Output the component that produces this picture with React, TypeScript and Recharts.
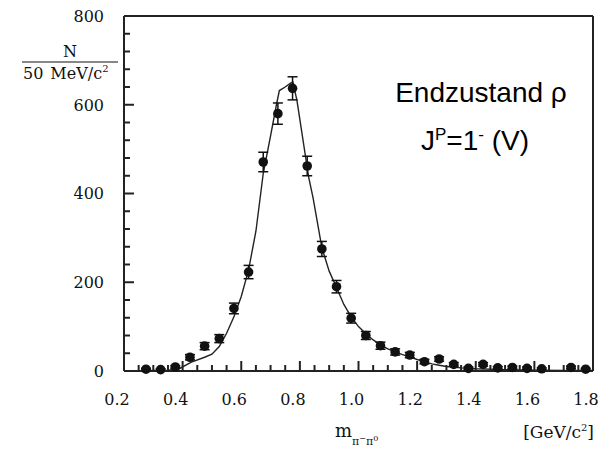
import React from 'react';
import { ComposedChart, XAxis, YAxis, Scatter, Line, ErrorBar } from 'recharts';

// measured points (bin centres, 50 MeV bins)
const massBins = [
  0.275, 0.325, 0.375, 0.425, 0.475, 0.525, 0.575, 0.625, 0.675, 0.725,
  0.775, 0.825, 0.875, 0.925, 0.975, 1.025, 1.075, 1.125, 1.175, 1.225,
  1.275, 1.325, 1.375, 1.425, 1.475, 1.525, 1.575, 1.625, 1.725, 1.775,
];
const counts = [
  4, 3, 9, 31, 56, 73, 141, 223, 471, 580,
  637, 462, 275, 190, 119, 80, 57, 43, 36, 21,
  27, 15, 6, 15, 7, 8, 6, 5, 8, 4,
];
const errors = [
  2, 2, 3, 6, 8, 9, 12, 15, 22, 24,
  26, 22, 17, 14, 11, 9, 8, 7, 6, 5,
  5, 4, 3, 4, 3, 3, 3, 2, 3, 2,
];

// fitted curve
const fitMass = [
  0.28, 0.35, 0.385, 0.43, 0.475, 0.5, 0.525, 0.55, 0.575, 0.6,
  0.625, 0.65, 0.675, 0.7, 0.72, 0.73, 0.75, 0.767, 0.776, 0.79,
  0.805, 0.82, 0.83, 0.845, 0.875, 0.9, 0.925, 0.95, 0.975, 1.0,
  1.025, 1.05, 1.075, 1.1, 1.125, 1.15, 1.175, 1.2, 1.225, 1.25,
  1.275, 1.3, 1.35, 1.4, 1.5, 1.6, 1.7, 1.8,
];
const fitCounts = [
  1, 2, 4, 20, 31, 38, 55, 85, 122, 168,
  228, 315, 445, 530, 600, 632, 640, 648, 651, 610,
  545, 480, 437, 390, 278, 225, 188, 150, 122, 100,
  84, 70, 59, 50, 43, 37, 32, 26, 21, 16,
  13, 10, 7, 5, 3, 2, 1.5, 1,
];

const xTickLabels = ['0.2', '0.4', '0.6', '0.8', '1.0', '1.2', '1.4', '1.6', '1.8'];
const yTickLabels = ['0', '200', '400', '600', '800'];

const pointData = massBins.map((x, i) => ({ x, y: counts[i], err: errors[i] }));
const fitData = fitMass.map((x, i) => ({ x, y: fitCounts[i] }));

const xMajor = xTickLabels.map(Number);
const yMajor = yTickLabels.map(Number);
const xTicks: number[] = [];
xMajor.forEach((v, i) => {
  xTicks.push(v);
  if (i < xMajor.length - 1) [0.05, 0.1, 0.15].forEach((d) => xTicks.push(+(v + d).toFixed(2)));
});
const yTicks: number[] = [];
yMajor.forEach((v, i) => {
  yTicks.push(v);
  if (i < yMajor.length - 1) [40, 80, 120, 160].forEach((d) => yTicks.push(v + d));
});

const AXIS = '#222';
const INK = '#111';
const SERIF = '"DejaVu Serif", serif';
const TW = 2;

const xLabel = (v: number) => {
  const i = xMajor.findIndex((m) => Math.abs(m - v) < 1e-6);
  return i >= 0 ? xTickLabels[i] : null;
};
const yLabel = (v: number) => {
  const i = yMajor.indexOf(v);
  return i >= 0 ? yTickLabels[i] : null;
};

// inward tick marks, drawn from the axis position recharts hands to the tick renderer
const BottomTick = (p: any) => {
  const { x, y, payload } = p;
  const lab = xLabel(payload.value);
  return (
    <g>
      <line x1={x} x2={x} y1={y} y2={y - (lab ? 10 : 6)} stroke={AXIS} strokeWidth={TW} />
      {lab && (
        <text x={x - 7} y={y + 34} textAnchor="middle" fontFamily={SERIF} fontSize={16} fill={INK}>
          {lab}
        </text>
      )}
    </g>
  );
};

const TopTick = (p: any) => {
  const { x, y, payload } = p;
  const lab = xLabel(payload.value);
  return <line x1={x} x2={x} y1={y} y2={y + (lab ? 10 : 6)} stroke={AXIS} strokeWidth={TW} />;
};

const LeftTick = (p: any) => {
  const { x, y, payload } = p;
  const lab = yLabel(payload.value);
  return (
    <g>
      <line x1={x} x2={x + (lab ? 10 : 6)} y1={y} y2={y} stroke={AXIS} strokeWidth={TW} />
      {lab && (
        <text x={x - 20} y={y} dy="0.36em" textAnchor="end" fontFamily={SERIF} fontSize={16} fill={INK}>
          {lab}
        </text>
      )}
    </g>
  );
};

const RightTick = (p: any) => {
  const { x, y, payload } = p;
  const lab = yLabel(payload.value);
  return <line x1={x} x2={x - (lab ? 10 : 6)} y1={y} y2={y} stroke={AXIS} strokeWidth={TW} />;
};

const Dot = (props: any) => <circle cx={props.cx} cy={props.cy} r={4.8} fill={INK} />;

export default function App() {
  return (
    <div style={{ position: 'absolute', left: 0, top: 0, width: 613, height: 450, background: '#fff' }}>
      <ComposedChart width={613} height={450} margin={{ top: 15, right: 19, bottom: 78, left: 123 }}>
        <XAxis
          xAxisId="b"
          type="number"
          dataKey="x"
          domain={[0.2, 1.8]}
          ticks={xTicks}
          interval={0}
          height={1}
          tickSize={0}
          tickMargin={0}
          tickLine={false}
          tick={BottomTick}
          axisLine={{ stroke: AXIS, strokeWidth: 2 }}
        />
        <XAxis
          xAxisId="t"
          orientation="top"
          type="number"
          dataKey="x"
          domain={[0.2, 1.8]}
          ticks={xTicks}
          interval={0}
          height={1}
          tickSize={0}
          tickMargin={0}
          tickLine={false}
          tick={TopTick}
          axisLine={{ stroke: AXIS, strokeWidth: 2 }}
        />
        <YAxis
          yAxisId="l"
          type="number"
          domain={[0, 800]}
          ticks={yTicks}
          interval={0}
          width={1}
          tickSize={0}
          tickMargin={0}
          tickLine={false}
          tick={LeftTick}
          axisLine={{ stroke: AXIS, strokeWidth: 2 }}
        />
        <YAxis
          yAxisId="r"
          orientation="right"
          type="number"
          domain={[0, 800]}
          ticks={yTicks}
          interval={0}
          width={1}
          tickSize={0}
          tickMargin={0}
          tickLine={false}
          tick={RightTick}
          axisLine={{ stroke: AXIS, strokeWidth: 2 }}
        />
        <Line
          xAxisId="b"
          yAxisId="l"
          data={fitData}
          dataKey="y"
          type="linear"
          stroke="#222"
          strokeWidth={1.4}
          dot={false}
          activeDot={false}
          isAnimationActive={false}
        />
        <Scatter xAxisId="b" yAxisId="l" data={pointData} dataKey="y" shape={Dot} isAnimationActive={false}>
          <ErrorBar dataKey="err" direction="y" width={5} stroke={INK} strokeWidth={1.5} isAnimationActive={false} />
        </Scatter>
      </ComposedChart>
      <svg width={613} height={450} style={{ position: 'absolute', left: 0, top: 0, pointerEvents: 'none' }}>
        <g fontFamily={SERIF} fill={INK}>
          <text x={70} y={57} textAnchor="middle" fontSize={16}>N</text>
          <line x1={22} x2={118} y1={62} y2={62} stroke={INK} strokeWidth={1.2} />
          <text x={23} y={79} fontSize={16}>
            50<tspan dx={7}>MeV/c</tspan>
            <tspan fontSize={10} dy={-7}>2</tspan>
          </text>
          <text x={335} y={437} fontSize={18}>
            m<tspan fontSize={11} dy={8}>π</tspan>
            <tspan fontSize={8} dy={-4}>−</tspan>
            <tspan fontSize={11} dy={4}>π</tspan>
            <tspan fontSize={8} dy={-4}>0</tspan>
          </text>
          <text x={594} y={438} textAnchor="end" fontSize={17}>
            [GeV/c<tspan fontSize={10} dy={-7}>2</tspan>
            <tspan dy={7}>]</tspan>
          </text>
        </g>
        <g fontFamily='"Liberation Sans", Arial, sans-serif' fill="#000" fontSize={28}>
          <text x={481} y={102} textAnchor="middle">Endzustand ρ</text>
          <text x={475} y={150} textAnchor="middle">
            J<tspan fontSize={17} dy={-10}>P</tspan>
            <tspan dy={10}>=1</tspan>
            <tspan fontSize={17} dy={-10}>-</tspan>
            <tspan dy={10}> (V)</tspan>
          </text>
        </g>
      </svg>
    </div>
  );
}
